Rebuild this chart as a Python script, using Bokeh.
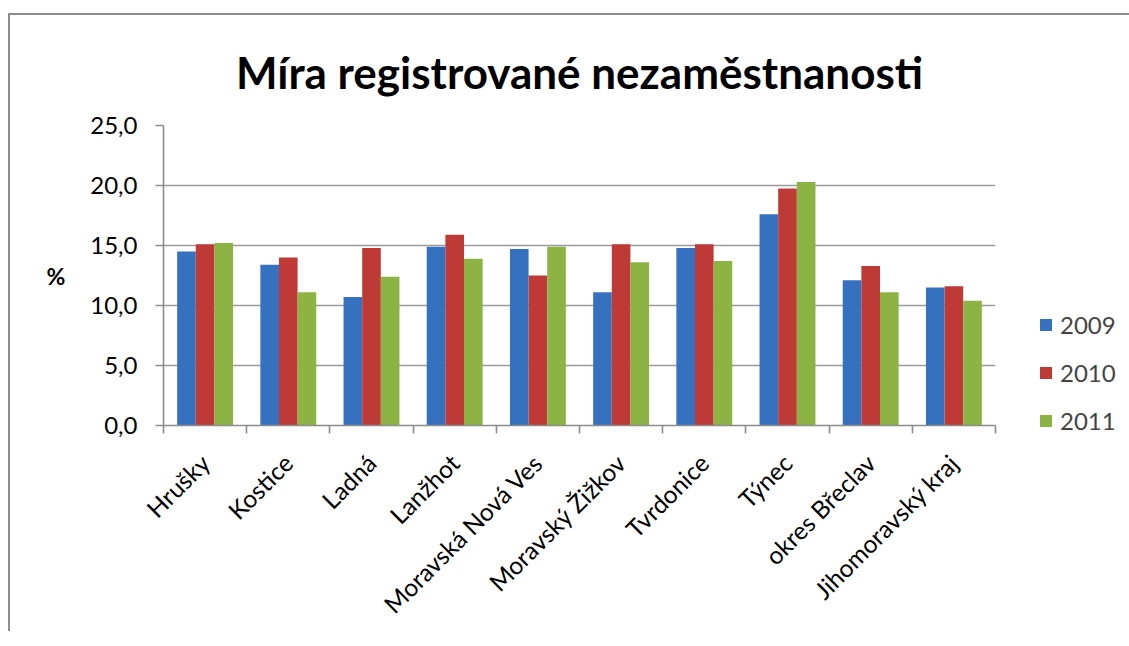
import math
from bokeh.plotting import figure
from bokeh.models import (Range1d, FixedTicker, CustomJSTickFormatter, Legend, LegendItem)
from bokeh.embed import file_html
from bokeh.resources import INLINE

categories = ["Hrušky", "Kostice", "Ladná", "Lanžhot", "Moravská Nová Ves",
              "Moravský Žižkov", "Tvrdonice", "Týnec", "okres Břeclav", "Jihomoravský kraj"]
years = ["2009", "2010", "2011"]
v2009 = [14.5, 13.4, 10.7, 14.9, 14.7, 11.1, 14.8, 17.6, 12.1, 11.5]
v2010 = [15.1, 14.0, 14.8, 15.9, 12.5, 15.1, 15.1, 19.75, 13.3, 11.6]
v2011 = [15.2, 11.1, 12.4, 13.9, 14.9, 13.6, 13.7, 20.3, 11.1, 10.4]
series = [v2009, v2010, v2011]
colors = ["#3671BF", "#BE3A37", "#8DB345"]
y_ticks = [0, 5, 10, 15, 20, 25]

n = len(categories)
bar_w = 0.224

p = figure(output_backend="svg", toolbar_location=None,
           frame_width=832, frame_height=300,
           min_border_left=153, min_border_right=124,
           min_border_top=110, min_border_bottom=200,
           x_range=Range1d(0, n), y_range=Range1d(0, 25),
           title="Míra registrované nezaměstnanosti")
p.styles = {"border-top": "2px solid #8c8c8c", "border-left": "2px solid #8c8c8c",
            "margin-left": "8px", "margin-top": "13px"}

p.title.align = "center"
p.title.text_font = "Lato"
p.title.text_font_style = "bold"
p.title.text_font_size = "44px"
p.title.text_color = "black"
p.title.standoff = 56

items = []
for k, vals in enumerate(series):
    xs = [i + 0.5 + (k - 1) * bar_w for i in range(n)]
    r = p.vbar(x=xs, top=vals, width=bar_w, fill_color=colors[k], line_color=None)
    items.append(LegendItem(label=years[k], renderers=[r]))

legend = Legend(items=items, location=(43, -10), orientation="vertical",
                glyph_width=15, glyph_height=15, label_height=24, spacing=19,
                padding=0, margin=0, label_standoff=7,
                label_text_font="Lato", label_text_font_size="24px",
                border_line_color=None, background_fill_alpha=0)
p.add_layout(legend, "right")

# axes
p.outline_line_color = None
p.xgrid.grid_line_color = None
p.ygrid.grid_line_color = "#9a9a9a"
p.ygrid.grid_line_width = 1.6
p.ygrid.ticker = FixedTicker(ticks=y_ticks)

ya = p.yaxis[0]
ya.ticker = FixedTicker(ticks=y_ticks)
ya.formatter = CustomJSTickFormatter(code="return tick.toFixed(1).replace('.', ',');")
ya.axis_line_color = "#8c8c8c"
ya.axis_line_width = 1.6
ya.major_tick_line_color = "#8c8c8c"
ya.major_tick_line_width = 1.6
ya.major_tick_out = 8
ya.major_tick_in = 0
ya.minor_tick_line_color = None
ya.major_label_text_font = "Lato"
ya.major_label_text_font_size = "24px"
ya.major_label_text_color = "black"
ya.major_label_standoff = 18
ya.axis_label = "%"
ya.axis_label_orientation = "horizontal"
ya.axis_label_text_font = "Lato"
ya.axis_label_text_font_style = "bold"
ya.axis_label_text_font_size = "23px"
ya.axis_label_text_color = "black"
ya.axis_label_standoff = 22

xa = p.xaxis[0]
xa.ticker = FixedTicker(ticks=[i + 0.5 for i in range(n)], minor_ticks=list(range(n + 1)))
xa.major_label_overrides = {i + 0.5: c for i, c in enumerate(categories)}
xa.major_label_orientation = math.pi / 4
xa.major_label_text_font = "Lato"
xa.major_label_text_font_size = "24.5px"
xa.major_label_text_color = "black"
xa.major_label_standoff = 25
xa.major_tick_line_color = None
xa.major_tick_out = 0
xa.major_tick_in = 0
xa.minor_tick_line_color = "#8c8c8c"
xa.minor_tick_line_width = 1.6
xa.minor_tick_out = 8
xa.minor_tick_in = 0
xa.axis_line_color = "#8c8c8c"
xa.axis_line_width = 1.6

open("out.html", "w").write(file_html(p, INLINE))
